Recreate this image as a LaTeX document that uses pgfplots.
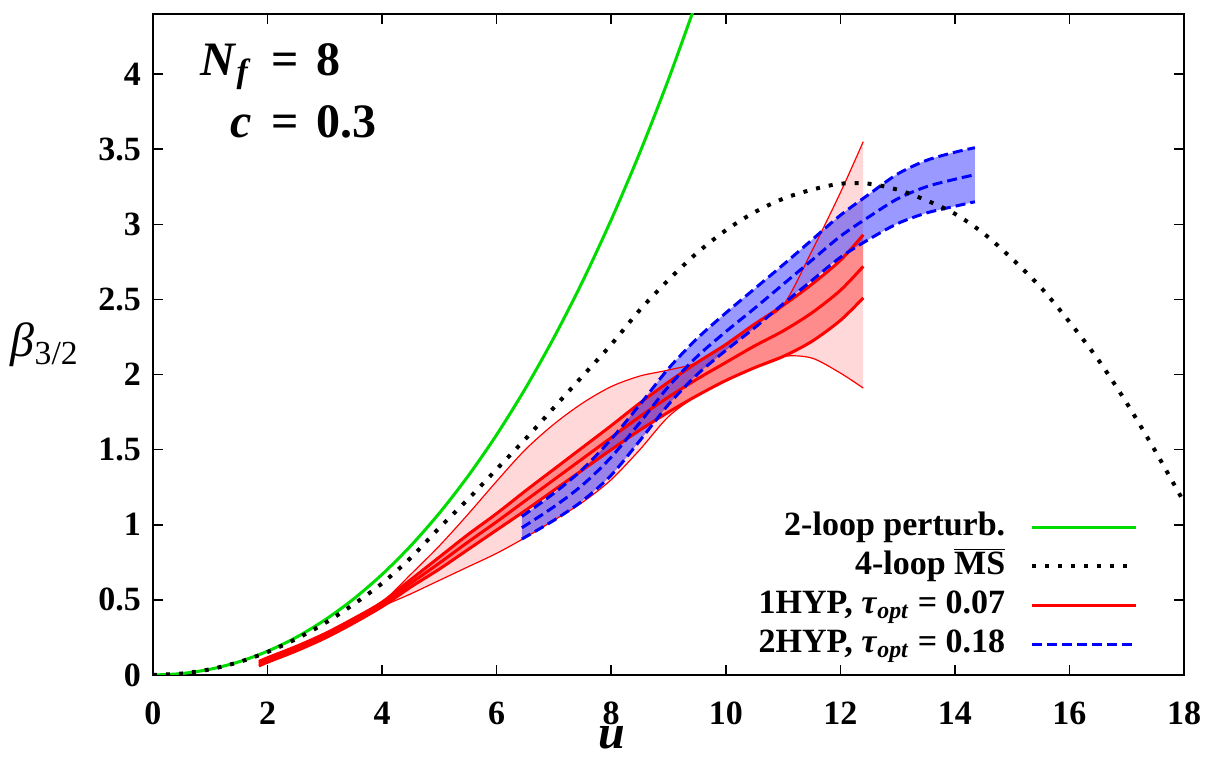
\documentclass[border=0pt]{standalone}
\usepackage{fontspec}
\setmainfont{Liberation Serif}
\usepackage{pgfplots}
\pgfplotsset{compat=1.18}
\usepackage{pgfplotstable}
\usepgfplotslibrary{fillbetween}
\definecolor{lgreen}{RGB}{0,220,0}

\pgfplotstableread{
u      y
0      0
0.5    0.0095
1.0    0.0385
1.5    0.0878
2.0    0.1582
2.5    0.2507
3.0    0.3661
3.5    0.5054
4.0    0.6696
4.5    0.8600
5.0    1.0776
5.5    1.3237
6.0    1.5995
6.5    1.9066
7.0    2.2463
7.5    2.6203
8.0    3.0303
8.5    3.4780
9.0    3.9654
9.5    4.4945
}\greentab

\pgfplotstableread{
u     y
0     0
0.5   0.0095
1.0   0.038
1.5   0.086
2.0   0.153
2.5   0.240
3.0   0.345
3.5   0.470
4.0   0.610
4.5   0.780
5.0   0.980
5.5   1.170
6.0   1.370
6.5   1.570
7.0   1.780
7.5   1.990
8.0   2.200
8.5   2.430
9.0   2.630
9.5   2.810
10.0  2.960
10.5  3.080
11.0  3.170
11.5  3.230
12.0  3.270
12.5  3.270
13.0  3.230
13.5  3.160
14.0  3.070
14.5  2.940
15.0  2.770
15.5  2.580
16.0  2.350
16.5  2.100
17.0  1.810
17.5  1.490
18.0  1.150
}\dottab

\pgfplotstableread{
u     ol     il     c      iu     ou
1.85  0.060  0.060  0.075  0.090  0.090
2.0   0.085  0.085  0.100  0.115  0.115
2.5   0.160  0.160  0.175  0.190  0.190
3.0   0.245  0.245  0.260  0.275  0.275
3.5   0.345  0.345  0.360  0.375  0.375
4.0   0.455  0.455  0.470  0.485  0.485
4.5   0.540  0.585  0.610  0.635  0.670
5.0   0.630  0.705  0.745  0.785  0.860
5.5   0.720  0.835  0.885  0.935  1.070
6.0   0.810  0.965  1.020  1.075  1.290
6.5   0.915  1.095  1.160  1.225  1.500
7.0   1.030  1.230  1.300  1.370  1.670
7.5   1.150  1.365  1.440  1.515  1.810
8.0   1.300  1.500  1.580  1.660  1.920
8.5   1.500  1.630  1.720  1.810  1.990
9.0   1.720  1.750  1.850  1.950  2.030
9.5   1.860  1.860  1.970  2.080  2.080
10.0  1.960  1.960  2.080  2.200  2.200
10.5  2.045  2.045  2.190  2.335  2.335
11.0  2.120  2.120  2.290  2.460  2.460
11.5  2.110  2.220  2.410  2.600  2.820
12.0  2.010  2.360  2.560  2.760  3.210
12.4  1.910  2.510  2.720  2.930  3.550
}\redtab

\pgfplotstableread{
u      bl     bc     bu
6.44   0.905  0.980  1.055
7.0    1.030  1.120  1.210
7.5    1.160  1.265  1.370
8.0    1.330  1.450  1.570
8.5    1.560  1.680  1.800
9.0    1.800  1.920  2.040
9.5    2.000  2.120  2.240
10.0   2.160  2.285  2.410
10.5   2.310  2.440  2.570
11.0   2.470  2.600  2.730
11.5   2.625  2.760  2.895
12.0   2.780  2.920  3.060
12.5   2.900  3.050  3.200
13.0   3.005  3.170  3.335
13.5   3.075  3.250  3.425
14.0   3.120  3.300  3.480
14.35  3.150  3.330  3.510
}\bluetab

\begin{document}
\begin{tikzpicture}
\begin{axis}[
  at={(0pt,0pt)}, anchor=south west,
  scale only axis, width=515.5pt, height=330.5pt,
  xmin=0, xmax=18, ymin=0, ymax=4.4,
  xtick={0,2,...,18}, ytick={0,0.5,...,4},
  tick align=inside, xtick pos=both, ytick pos=both,
  major tick length=5pt,
  every tick/.style={black, line width=0.8pt},
  axis line style={line width=1pt},
  /pgf/number format/assume math mode=true,
  ticklabel style={font=\fontsize{17}{20}\selectfont\bfseries},
  xticklabel style={yshift=-10pt},
  yticklabel style={xshift=-2.5pt},
  xlabel={\textbf{\textit{u}}},
  xlabel style={at={(axis description cs:0.445,-0.0955)}, anchor=center, inner sep=0pt, font=\fontsize{24}{26}\selectfont},
  ylabel={\textit{β}\textsubscript{3/2}},
  ylabel style={at={(axis description cs:-0.105,0.499)}, anchor=center, rotate=-90, font=\fontsize{24}{26}\selectfont},
  legend style={draw=none, fill=none, at={(axis description cs:0.956,0.248)}, anchor=north east,
    font=\fontsize{17}{20}\selectfont\bfseries, inner sep=0pt, row sep=3.5pt,
    nodes={inner sep=0pt, text height=12pt, text depth=4pt},
    /tikz/every odd column/.append style={column sep=12.5pt}},
  legend cell align=right,
  legend plot pos=right,
  legend image code/.code={\draw[#1] (0pt,0pt) -- (52pt,0pt);},
]
\addlegendimage{lgreen, line width=1.5pt}
\addlegendimage{black, line width=2pt, dash pattern=on 2pt off 4.5pt}
\addlegendimage{red, line width=1.5pt}
\addlegendimage{blue, line width=1.5pt, dash pattern=on 5pt off 2.5pt}

% green 2-loop
\addplot[lgreen, line width=1.5pt, smooth, forget plot] table[x=u,y=y]{\greentab};

% red outer band
\addplot[draw=none, name path=ou, smooth, forget plot] table[x=u,y=ou]{\redtab};
\addplot[draw=none, name path=ol, smooth, forget plot] table[x=u,y=ol]{\redtab};
\addplot[red!15, forget plot] fill between[of=ou and ol];
% red inner band
\addplot[draw=none, name path=iu, smooth, forget plot] table[x=u,y=iu]{\redtab};
\addplot[draw=none, name path=il, smooth, forget plot] table[x=u,y=il]{\redtab};
\addplot[red!45, forget plot] fill between[of=iu and il];
% red lines
\addplot[red, line width=0.6pt, smooth, forget plot] table[x=u,y=ou]{\redtab};
\addplot[red, line width=0.6pt, smooth, forget plot] table[x=u,y=ol]{\redtab};
\addplot[red, line width=1.5pt, smooth, forget plot] table[x=u,y=iu]{\redtab};
\addplot[red, line width=1.5pt, smooth, forget plot] table[x=u,y=il]{\redtab};
\addplot[red, line width=1.5pt, smooth, forget plot] table[x=u,y=c]{\redtab};

% blue band
\addplot[draw=none, name path=bu, smooth, forget plot] table[x=u,y=bu]{\bluetab};
\addplot[draw=none, name path=bl, smooth, forget plot] table[x=u,y=bl]{\bluetab};
\addplot[blue, fill opacity=0.4, forget plot] fill between[of=bu and bl];
\addplot[blue, line width=1.5pt, dash pattern=on 5pt off 2.5pt, smooth, forget plot] table[x=u,y=bu]{\bluetab};
\addplot[blue, line width=1.5pt, dash pattern=on 5pt off 2.5pt, smooth, forget plot] table[x=u,y=bc]{\bluetab};
\addplot[blue, line width=1.5pt, dash pattern=on 5pt off 2.5pt, smooth, forget plot] table[x=u,y=bl]{\bluetab};

% 4-loop MS-bar
\addplot[black, line width=2pt, dash pattern=on 2pt off 4.5pt, smooth, forget plot] table[x=u,y=y]{\dottab};

\legend{2-loop perturb., 4-loop $\overline{\mbox{\bfseries MS}}$, {1HYP, \textit{τ}\textsubscript{\textit{opt}} = 0.07}, {2HYP, \textit{τ}\textsubscript{\textit{opt}} = 0.18}}

\node[anchor=base west, inner sep=0pt, font=\fontsize{24}{31.5}\selectfont\bfseries]
  at (axis description cs:0.0456,0.9077)
  {\begin{tabular}[t]{@{}r@{}l@{}}\textit{N}\textsubscript{\textit{f}} & \hspace{10pt}=\hspace{9pt}8\\ \textit{c} & \hspace{10pt}=\hspace{9pt}0.3\end{tabular}};
\end{axis}
\path (-76.5pt,-41.5pt) rectangle (528.5pt,337.5pt);
\end{tikzpicture}
\end{document}
